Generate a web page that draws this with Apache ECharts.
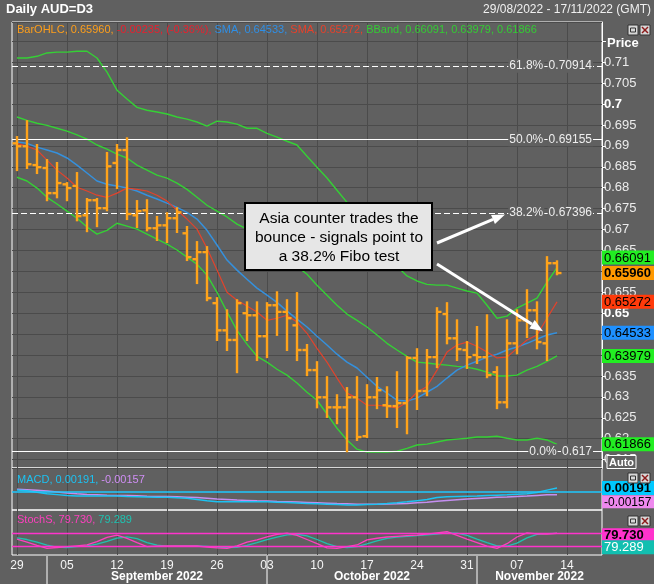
<!DOCTYPE html>
<html>
<head>
<meta charset="utf-8">
<title>Daily AUD=D3</title>
<script src="https://cdn.jsdelivr.net/npm/echarts@6.0.0/dist/echarts.min.js"></script>
<style>
html,body{margin:0;padding:0;background:#606060;}
#main{width:654px;height:584px;}
</style>
</head>
<body>
<div id="main"></div>
<script>
// 交易日（横轴）
var dates = ['08-29','08-30','08-31','09-01','09-02',
	'09-05','09-06','09-07','09-08','09-09','09-12','09-13','09-14','09-15','09-16',
	'09-19','09-20','09-21','09-22','09-23','09-26','09-27','09-28','09-29','09-30',
	'10-03','10-04','10-05','10-06','10-07','10-10','10-11','10-12','10-13','10-14',
	'10-17','10-18','10-19','10-20','10-21','10-24','10-25','10-26','10-27','10-28',
	'10-31','11-01','11-02','11-03','11-04','11-07','11-08','11-09','11-10','11-11',
	'11-14','11-15','11-16','11-17'];
var months = ['September 2022', 'October 2022', 'November 2022'];
var monthStart = [3, 25, 46];

// OHLC
var opens = [0.6906,0.6899,0.6854,0.6847,0.6787,0.6808,0.6804,0.6734,0.6770,0.6751,
	0.6859,0.6890,0.6734,0.6746,0.6703,0.6710,0.6727,0.6691,0.6629,0.6646,
	0.6524,0.6459,0.6436,0.6500,0.6495,0.6445,0.6519,0.6503,0.6471,0.6412,
	0.6364,0.6299,0.6275,0.6275,0.6299,0.6206,0.6299,0.6280,0.6278,0.6285,
	0.6393,0.6314,0.6395,0.6498,0.6440,0.6412,0.6400,0.6395,0.6359,0.6287,
	0.6428,0.6483,0.6507,0.6428,0.66195];
var highs = [0.6921,0.6959,0.6902,0.6866,0.6859,0.6811,0.6835,0.6773,0.6773,0.6883,
	0.6902,0.6918,0.6768,0.6770,0.6730,0.6739,0.6751,0.6706,0.6670,0.6658,
	0.6536,0.6507,0.6531,0.6526,0.6526,0.6524,0.6550,0.6531,0.6548,0.6424,
	0.6383,0.6347,0.6304,0.6321,0.6347,0.6328,0.6345,0.6323,0.6359,0.6395,
	0.6414,0.6412,0.6512,0.6524,0.6483,0.6431,0.6467,0.6495,0.6371,0.6483,
	0.6507,0.6555,0.6526,0.6634,0.6624];
var lows = [0.6842,0.6847,0.6835,0.6770,0.6777,0.6770,0.6722,0.6696,0.6708,0.6746,
	0.6799,0.6725,0.6706,0.6698,0.6675,0.6670,0.6694,0.6627,0.6572,0.6531,
	0.6436,0.6412,0.6359,0.6436,0.6388,0.6395,0.6448,0.6412,0.6388,0.6352,
	0.6275,0.6252,0.6237,0.6170,0.6197,0.6204,0.6273,0.6252,0.6228,0.6213,
	0.6271,0.6304,0.6371,0.6428,0.6388,0.6369,0.6381,0.6347,0.6273,0.6275,
	0.6404,0.6443,0.6416,0.6388,0.6593];
var closes = [0.6899,0.6856,0.6849,0.6787,0.6811,0.6799,0.6732,0.6770,0.6751,0.6851,
	0.6890,0.6737,0.6744,0.6703,0.6710,0.6727,0.6741,0.6634,0.6646,0.6536,
	0.6459,0.6436,0.6524,0.6495,0.6445,0.6519,0.6503,0.6488,0.6412,0.6364,
	0.6299,0.6275,0.6275,0.6299,0.6204,0.6299,0.6316,0.6278,0.6285,0.6393,
	0.6314,0.6395,0.6503,0.6440,0.6414,0.6395,0.6395,0.6352,0.6287,0.6428,
	0.6483,0.6507,0.6431,0.66195,0.6596];

// 均线、布林带
var smaBlue = [0.6909,0.6906,0.6897,0.6890,0.6883,0.6871,0.6854,0.6835,0.6816,0.6808,
	0.6804,0.6799,0.6792,0.6782,0.6773,0.6763,0.6753,0.6741,0.6725,0.6698,
	0.6663,0.6627,0.6603,0.6581,0.6560,0.6543,0.6526,0.6505,0.6486,0.6467,
	0.6445,0.6424,0.6402,0.6383,0.6369,0.6347,0.6325,0.6309,0.6292,0.6290,
	0.6297,0.6311,0.6325,0.6345,0.6364,0.6376,0.6385,0.6395,0.6402,0.6412,
	0.6419,0.6428,0.6438,0.6448,0.64533];
var smaRed = [0.6906,0.6899,0.6890,0.6866,0.6842,0.6823,0.6801,0.6792,0.6782,0.6777,
	0.6787,0.6799,0.6796,0.6792,0.6782,0.6768,0.6746,0.6725,0.6701,0.6655,
	0.6603,0.6550,0.6531,0.6517,0.6503,0.6483,0.6488,0.6495,0.6479,0.6452,
	0.6416,0.6383,0.6345,0.6309,0.6297,0.6280,0.6280,0.6278,0.6273,0.6287,
	0.6311,0.6325,0.6364,0.6407,0.6424,0.6431,0.6421,0.6407,0.6393,0.6395,
	0.6416,0.6436,0.6448,0.6488,0.65272];
var bbUpper = [0.7110,0.7110,0.7114,0.7122,0.7124,0.7124,0.7126,0.7126,0.7110,0.7076,
	0.7033,0.7012,0.6992,0.6985,0.6981,0.6976,0.6969,0.6964,0.6957,0.6947,
	0.6959,0.6957,0.6952,0.6942,0.6942,0.6930,0.6921,0.6911,0.6902,0.6875,
	0.6849,0.6823,0.6794,0.6765,0.6734,0.6703,0.6672,0.6641,0.6612,0.6589,
	0.6577,0.6569,0.6567,0.6567,0.6560,0.6553,0.6548,0.6519,0.6488,0.6493,
	0.6512,0.6524,0.6536,0.6574,0.66091];
var bbMid = [0.6969,0.6961,0.6954,0.6949,0.6942,0.6935,0.6926,0.6916,0.6902,0.6892,
	0.6880,0.6871,0.6854,0.6842,0.6830,0.6823,0.6811,0.6796,0.6777,0.6758,
	0.6744,0.6730,0.6713,0.6701,0.6684,0.6667,0.6648,0.6632,0.6612,0.6593,
	0.6567,0.6543,0.6519,0.6498,0.6483,0.6467,0.6448,0.6428,0.6412,0.6397,
	0.6383,0.6381,0.6378,0.6376,0.6373,0.6371,0.6366,0.6359,0.6350,0.6350,
	0.6352,0.6364,0.6373,0.6385,0.63979];
var bbLower = [0.6825,0.6816,0.6799,0.6777,0.6761,0.6744,0.6727,0.6706,0.6689,0.6698,
	0.6715,0.6708,0.6701,0.6689,0.6677,0.6665,0.6651,0.6634,0.6617,0.6591,
	0.6550,0.6503,0.6459,0.6426,0.6397,0.6383,0.6366,0.6352,0.6333,0.6311,
	0.6292,0.6259,0.6225,0.6197,0.6175,0.6168,0.6168,0.6168,0.6170,0.6177,
	0.6185,0.6187,0.6192,0.6197,0.6199,0.6201,0.6204,0.6204,0.6206,0.6201,
	0.6197,0.6197,0.6201,0.6197,0.61866];

// 斐波那契
var fibNames = ['61.8%', '50.0%', '38.2%', '0.0%'];
var fibLevels = [0.70914, 0.69155, 0.67396, 0.617];
var fibDashed = [true, false, true, false];

// MACD
var macdLine = [0.0009,0.0005,-0.0003,-0.0010,-0.0015,-0.0020,-0.0022,-0.0022,-0.0022,-0.0022,
	-0.0022,-0.0025,-0.0026,-0.0027,-0.0028,-0.0029,-0.0031,-0.0034,-0.0040,-0.0046,
	-0.0051,-0.0052,-0.0052,-0.0052,-0.0051,-0.0052,-0.0054,-0.0056,-0.0058,-0.0060,
	-0.0062,-0.0064,-0.0066,-0.0068,-0.0068,-0.0066,-0.0064,-0.0061,-0.0057,-0.0052,
	-0.0046,-0.0040,-0.0030,-0.0026,-0.0024,-0.0023,-0.0022,-0.0020,-0.0018,-0.0016,
	-0.0013,-0.0010,-0.0004,0.0008,0.00191];
var macdSignal = [0.0012,0.0010,0.0007,0.0003,-0.0002,-0.0007,-0.0011,-0.0014,-0.0016,-0.0018,
	-0.0019,-0.0020,-0.0021,-0.0023,-0.0024,-0.0025,-0.0026,-0.0028,-0.0030,-0.0033,
	-0.0037,-0.0040,-0.0043,-0.0045,-0.0047,-0.0048,-0.0050,-0.0051,-0.0053,-0.0055,
	-0.0057,-0.0059,-0.0061,-0.0062,-0.0064,-0.0064,-0.0064,-0.0063,-0.0062,-0.0060,
	-0.0057,-0.0054,-0.0049,-0.0045,-0.0041,-0.0038,-0.0035,-0.0032,-0.0029,-0.0027,
	-0.0024,-0.0022,-0.0019,-0.0016,-0.00157];

// StochS
var stochK = [52,38,22,8,12,16,20,24,40,60,
	71,55,35,16,18,19,19,19,19,14,
	10,8,20,38,48,62,74,80,70,50,
	30,10,8,16,24,48,56,62,65,68,
	71,76,82,87,70,52,35,18,8,30,
	62,82,77,76,79.730];
var stochD = [58,50,37,23,14,12,16,20,28,41,
	57,62,54,35,23,18,19,19,19,17,
	14,11,13,22,35,49,61,72,75,67,
	50,30,16,11,16,29,43,55,61,65,
	68,72,76,82,80,70,52,35,20,19,
	33,58,74,78,79.289];
var stochLevels = [80, 20];

var FONT = '"Liberation Sans", Arial, sans-serif';
var BG = '#606060';
var GRIDC = '#4b4b4b';
var barColor = '#ffa31a';
var NOLINE = 'rgba(0,0,0,0)';

var myChart = echarts.init(document.getElementById('main'));

function mondays(i) { return i % 5 === 0; }

function priceLabel(v) {
	var k = v / 0.005;
	if (Math.abs(k - Math.round(k)) > 1e-6 || v > 0.7125) return '';
	var s = String(+v.toFixed(3));
	if (Math.abs(v / 0.05 - Math.round(v / 0.05)) < 1e-6) return '{b|' + s + '}';
	return s;
}

// 右侧彩色数值标签
function tag(v, text, bg, fg, weight, dy, size) {
	return {
		yAxis: v,
		lineStyle: {color: NOLINE},
		label: {
			show: true, position: 'end', distance: 0,
			formatter: '{t|' + text + '}',
			padding: dy < 0 ? [0, 0, -2 * dy, 0] : [2 * dy, 0, 0, 0],
			rich: {t: {backgroundColor: bg, color: fg, fontWeight: weight, fontSize: size || 13, fontFamily: FONT,
				width: 48, padding: [1, 2, 0, 2], lineHeight: 15}}
		}
	};
}

// OHLC 美国线
function renderBar(params, api) {
	var i = api.value(0);
	var pO = api.coord([i, api.value(1)]);
	var pH = api.coord([i, api.value(2)]);
	var pL = api.coord([i, api.value(3)]);
	var pC = api.coord([i, api.value(4)]);
	var w = 4.5;
	var st = {stroke: barColor, lineWidth: 2.4};
	return {type: 'group', children: [
		{type: 'line', shape: {x1: pH[0], y1: pH[1] - 1, x2: pL[0], y2: pL[1] + 1}, style: st},
		{type: 'line', shape: {x1: pO[0] - w, y1: pO[1], x2: pO[0], y2: pO[1]}, style: st},
		{type: 'line', shape: {x1: pC[0], y1: pC[1], x2: pC[0] + w, y2: pC[1]}, style: st}
	]};
}

var ohlc = [];
for (var i = 0; i < closes.length; i++) {
	ohlc.push([i, opens[i], highs[i], lows[i], closes[i]]);
}

var last = closes.length - 1;
var chg = closes[last] - closes[last - 1];
var pct = chg / closes[last - 1] * 100;

var gridBase = {left: 12, right: 52, show: true, borderColor: '#fff', borderWidth: 1, backgroundColor: 'transparent'};

var option = {
	backgroundColor: BG,
	animation: false,
	textStyle: {fontFamily: FONT},
	grid: [
		Object.assign({top: 22, height: 446}, gridBase),
		Object.assign({top: 468, height: 42}, gridBase),
		Object.assign({top: 510, height: 45}, gridBase)
	],
	xAxis: [0, 1, 2].map(function(g) {
		return {
			type: 'category', gridIndex: g, data: dates, boundaryGap: true,
			axisLine: {show: false}, axisTick: {show: false},
			axisLabel: g === 2 ? {
				show: true, interval: mondays, color: '#f5f5f5', fontSize: 12, margin: 5,
				formatter: function(v) { return v.slice(3); }
			} : {show: false},
			splitLine: {show: true, interval: mondays, alignWithLabel: true, lineStyle: {color: GRIDC, width: 1}}
		};
	}),
	yAxis: [
		{
			type: 'value', gridIndex: 0, position: 'right', scale: true,
			min: 0.6130, max: 0.7196, minInterval: 0.005, maxInterval: 0.005,
			axisLine: {show: true, lineStyle: {color: '#fff'}},
			axisTick: {show: true, length: 4, lineStyle: {color: '#fff'}},
			axisLabel: {color: '#ececec', fontSize: 13, margin: 2, formatter: priceLabel,
				showMinLabel: false, showMaxLabel: false,
				rich: {b: {fontWeight: 'bold', fontSize: 13, color: '#fff'}}},
			splitLine: {show: true, lineStyle: {color: GRIDC}}
		},
		{type: 'value', gridIndex: 1, position: 'right', min: -0.009385, max: 0.012154, show: false},
		{type: 'value', gridIndex: 2, position: 'right', min: -23.8, max: 190.5, show: false}
	],
	series: [
		{
			name: 'BBand upper', type: 'line', data: bbUpper, showSymbol: false, z: 2,
			lineStyle: {color: '#35d035', width: 1.4},
			markLine: {
				silent: true, symbol: ['none', 'none'], z: 3, animation: false, precision: 6,
				lineStyle: {color: '#fff', width: 1, type: 'solid'},
				label: {show: true, position: 'insideEnd', distance: 9,
					rich: {t: {backgroundColor: BG, color: '#eeeeee', fontSize: 12, fontFamily: FONT, padding: [1, 1]}}},
				data: fibLevels.map(function(v, k) {
					return {
						yAxis: v,
						lineStyle: {type: fibDashed[k] ? [6, 3] : 'solid'},
						label: {formatter: '{t|' + fibNames[k] + '} {t|' + v + '}'}
					};
				})
			}
		},
		{name: 'BBand mid', type: 'line', data: bbMid, showSymbol: false, z: 2, lineStyle: {color: '#35d035', width: 1.4}},
		{name: 'BBand lower', type: 'line', data: bbLower, showSymbol: false, z: 2, lineStyle: {color: '#35d035', width: 1.4}},
		{
			name: 'SMA blue', type: 'line', data: smaBlue, showSymbol: false, z: 3,
			lineStyle: {color: '#3590dc', width: 1.5},
			markLine: {
				silent: true, symbol: ['none', 'none'], z: 10, animation: false, precision: 6,
				data: [
					tag(bbUpper[last], bbUpper[last].toFixed(5), '#22ee22', '#000', 'normal', -10),
					tag(closes[last], closes[last].toFixed(5), '#ff9900', '#000', 'bold', 0),
					tag(smaRed[last], smaRed[last].toFixed(5), '#ff3a0a', '#000', 'normal', 0),
					tag(smaBlue[last], smaBlue[last].toFixed(5), '#1e90ff', '#000', 'normal', 0),
					tag(bbMid[last], bbMid[last].toFixed(5), '#22ee22', '#000', 'normal', 0),
					tag(bbLower[last], bbLower[last].toFixed(5), '#22ee22', '#000', 'normal', 0)
				]
			}
		},
		{name: 'SMA red', type: 'line', data: smaRed, showSymbol: false, z: 3, lineStyle: {color: '#e2432c', width: 1.2}},
		{
			name: 'BarOHLC', type: 'custom', renderItem: renderBar, data: ohlc, z: 5,
			encode: {x: 0, y: [1, 2, 3, 4]}
		},
		{
			name: 'MACD', type: 'line', xAxisIndex: 1, yAxisIndex: 1, data: macdLine, showSymbol: false, z: 4,
			lineStyle: {color: '#1cc2f2', width: 1.5},
			markLine: {
				silent: true, symbol: ['none', 'none'], z: 10, animation: false, precision: 6,
				data: [
					{yAxis: 0, lineStyle: {color: '#1ec8ff', width: 1.5, type: 'solid'}, label: {show: false}},
					tag(macdLine[last], macdLine[last].toFixed(5), '#00c8ff', '#000', 'bold', 0),
					tag(macdSignal[last], macdSignal[last].toFixed(5), '#ee88ee', '#000', 'normal', 7, 12)
				]
			}
		},
		{name: 'Signal', type: 'line', xAxisIndex: 1, yAxisIndex: 1, data: macdSignal, showSymbol: false, z: 3,
			lineStyle: {color: '#c48ef0', width: 1.5}},
		{
			name: 'StochS K', type: 'line', xAxisIndex: 2, yAxisIndex: 2, data: stochK, showSymbol: false, z: 4,
			lineStyle: {color: '#ff3fbf', width: 1.3},
			markLine: {
				silent: true, symbol: ['none', 'none'], z: 10, animation: false, precision: 6,
				data: stochLevels.map(function(v) {
					return {yAxis: v, lineStyle: {color: '#ff33cc', width: 1.3, type: 'solid'}, label: {show: false}};
				}).concat([
					tag(stochK[last], stochK[last].toFixed(3), '#ff33cc', '#000', 'bold', 2),
					tag(stochD[last], stochD[last].toFixed(3), '#12bfb0', '#fff', 'normal', 14)
				])
			}
		},
		{name: 'StochS D', type: 'line', xAxisIndex: 2, yAxisIndex: 2, data: stochD, showSymbol: false, z: 3,
			lineStyle: {color: '#1fc2b0', width: 1.3}}
	]
};

myChart.setOption(option);

// 注释、标题等图形元素
function arrow(x1, y1, x2, y2) {
	var ang = Math.atan2(y2 - y1, x2 - x1), len = 13, half = 5;
	var bx = x2 - len * Math.cos(ang), by = y2 - len * Math.sin(ang);
	var nx = -Math.sin(ang) * half, ny = Math.cos(ang) * half;
	return [
		{type: 'line', z: 100, shape: {x1: x1, y1: y1, x2: bx, y2: by}, style: {stroke: '#fff', lineWidth: 3}},
		{type: 'polygon', z: 100, shape: {points: [[x2, y2], [bx + nx, by + ny], [bx - nx, by - ny]]}, style: {fill: '#fff'}}
	];
}

function icons(y) {
	return [
		{type: 'rect', z: 100, shape: {x: 628, y: y, width: 10, height: 10}, style: {fill: '#d8d8d8', stroke: '#333', lineWidth: 1}},
		{type: 'rect', z: 101, shape: {x: 630.5, y: y + 3, width: 5, height: 4}, style: {fill: 'none', stroke: '#333', lineWidth: 1}},
		{type: 'rect', z: 100, shape: {x: 640, y: y, width: 10, height: 10}, style: {fill: '#d8d8d8', stroke: '#333', lineWidth: 1}},
		{type: 'line', z: 101, shape: {x1: 642, y1: y + 2, x2: 648, y2: y + 8}, style: {stroke: '#8b1a1a', lineWidth: 1.5}},
		{type: 'line', z: 101, shape: {x1: 648, y1: y + 2, x2: 642, y2: y + 8}, style: {stroke: '#8b1a1a', lineWidth: 1.5}}
	];
}

var g = [];
g.push({type: 'text', z: 100, left: 6, top: 3, style: {text: 'Daily AUD=D3', fill: '#fff', font: 'bold 13px ' + FONT}});
g.push({type: 'text', z: 100, right: 3, top: 4, style: {text: '29/08/2022 - 17/11/2022 (GMT)', fill: '#f0f0f0', font: '12px ' + FONT}});
g.push({type: 'text', z: 100, left: 607, top: 37, style: {text: 'Price', fill: '#fff', font: 'bold 13px ' + FONT}});

g.push({type: 'text', z: 100, left: 17, top: 24, style: {
	text: '{o|BarOHLC, ' + closes[last].toFixed(5) + ', }{r|' + chg.toFixed(5) + ', (' + pct.toFixed(2) + '%), }' +
		'{b|SMA, ' + smaBlue[last].toFixed(5) + ', }{s|SMA, ' + smaRed[last].toFixed(5) + ', }' +
		'{g|BBand, ' + bbUpper[last].toFixed(5) + ', ' + bbMid[last].toFixed(5) + ', ' + bbLower[last].toFixed(5) + '}',
	font: '11px ' + FONT,
	rich: {o: {fill: '#ff9f1a', font: '11px ' + FONT}, r: {fill: '#e8202e', font: '11px ' + FONT},
		b: {fill: '#2f8fe6', font: '11px ' + FONT}, s: {fill: '#e8402a', font: '11px ' + FONT},
		g: {fill: '#33cc33', font: '11px ' + FONT}}
}});
g.push({type: 'text', z: 100, left: 17, top: 474, style: {
	text: '{c|MACD, ' + macdLine[last].toFixed(5) + ', }{v|' + macdSignal[last].toFixed(5) + '}',
	rich: {c: {fill: '#1cc2f2', font: '11px ' + FONT}, v: {fill: '#d08ef5', font: '11px ' + FONT}}
}});
g.push({type: 'text', z: 100, left: 17, top: 514, style: {
	text: '{m|StochS, ' + stochK[last].toFixed(3) + ', }{t|' + stochD[last].toFixed(3) + '}',
	rich: {m: {fill: '#ff3fbf', font: '11px ' + FONT}, t: {fill: '#1fc2b0', font: '11px ' + FONT}}
}});

// 说明框
g.push({type: 'rect', z: 100, shape: {x: 245, y: 203, width: 187, height: 67}, style: {fill: '#e6e6e6', stroke: '#000', lineWidth: 2}});
['Asia counter trades the', 'bounce - signals point to', 'a 38.2% Fibo test'].forEach(function(t, k) {
	g.push({type: 'text', z: 101, x: 339, y: 219 + k * 19, style: {text: t, fill: '#000', font: '15.5px ' + FONT,
		textAlign: 'center', textVerticalAlign: 'middle'}});
});

var tip1 = myChart.convertToPixel({xAxisIndex: 0, yAxisIndex: 0}, [dates[49], 0.6736]);
var p52 = myChart.convertToPixel({xAxisIndex: 0, yAxisIndex: 0}, [dates[52], 0.6457]);
var p53 = myChart.convertToPixel({xAxisIndex: 0, yAxisIndex: 0}, [dates[53], 0.6457]);
var tip2 = [p52[0] + 0.6 * (p53[0] - p52[0]), p52[1]];
g = g.concat(arrow(437, 243, tip1[0] - 2, tip1[1]));
g = g.concat(arrow(437, 264, tip2[0], tip2[1]));

// Auto 按钮和面板图标
g.push({type: 'rect', z: 100, shape: {x: 607, y: 455.5, width: 29, height: 13}, style: {fill: BG, stroke: '#fff', lineWidth: 1}});
g.push({type: 'text', z: 101, x: 621.5, y: 462.5, style: {text: 'Auto', fill: '#fff', font: 'bold 11px ' + FONT,
	textAlign: 'center', textVerticalAlign: 'middle'}});
g = g.concat(icons(25), icons(473), icons(516));

// 月份
var sep = monthStart.map(function(k) { return myChart.convertToPixel({xAxisIndex: 2}, dates[k]); });
var xEnd = myChart.convertToPixel({xAxisIndex: 2}, dates[dates.length - 1]) + 5;
var bounds = sep.concat([xEnd]);
sep.forEach(function(x) {
	g.push({type: 'line', z: 100, shape: {x1: x, y1: 556, x2: x, y2: 584}, style: {stroke: '#fff', lineWidth: 1}});
});
months.forEach(function(m, k) {
	g.push({type: 'text', z: 100, x: (bounds[k] + bounds[k + 1]) / 2, y: 577, style: {text: m, fill: '#fff',
		font: 'bold 12px ' + FONT, textAlign: 'center', textVerticalAlign: 'middle'}});
});

myChart.setOption({graphic: g});
</script>
</body>
</html>
